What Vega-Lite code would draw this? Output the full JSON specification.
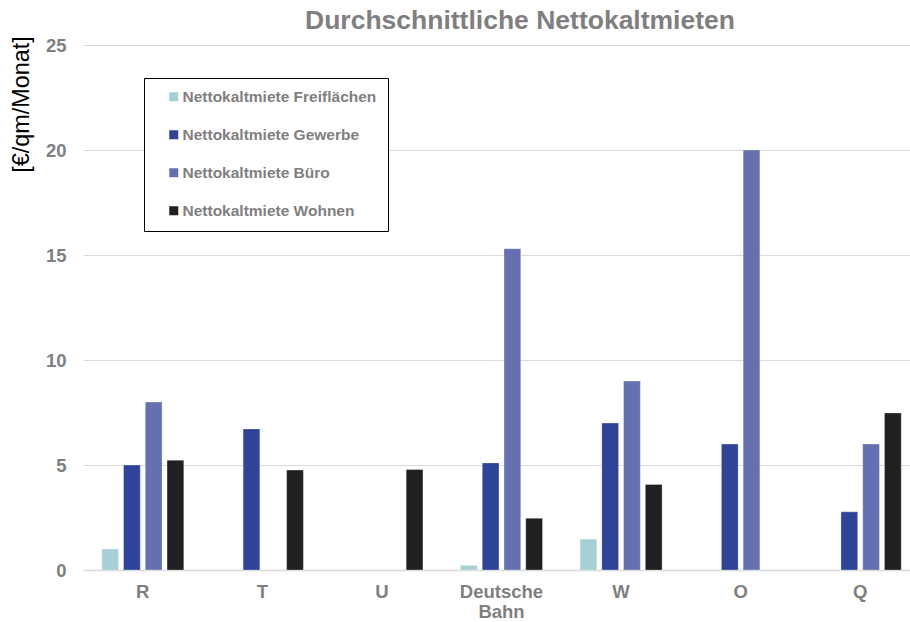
{
  "$schema": "https://vega.github.io/schema/vega-lite/v6.json",
  "autosize": {"type": "none"},
  "width": 837,
  "height": 525,
  "padding": {"left": 83, "top": 45, "right": 0, "bottom": 52},
  "background": "white",
  "title": {
    "text": "Durchschnittliche Nettokaltmieten",
    "font": "Liberation Sans",
    "fontSize": 26.5,
    "fontWeight": "bold",
    "color": "#7f7f7f",
    "anchor": "start",
    "frame": "group",
    "dx": 222,
    "offset": 1
  },
  "data": {
    "values": [
      {"standort": "R", "art": "Nettokaltmiete Freiflächen", "wert": 1.0},
      {"standort": "R", "art": "Nettokaltmiete Gewerbe", "wert": 5.0},
      {"standort": "R", "art": "Nettokaltmiete Büro", "wert": 8.0},
      {"standort": "R", "art": "Nettokaltmiete Wohnen", "wert": 5.23},
      {"standort": "T", "art": "Nettokaltmiete Gewerbe", "wert": 6.72},
      {"standort": "T", "art": "Nettokaltmiete Wohnen", "wert": 4.76},
      {"standort": "U", "art": "Nettokaltmiete Wohnen", "wert": 4.78},
      {"standort": "Deutsche Bahn", "art": "Nettokaltmiete Freiflächen", "wert": 0.22},
      {"standort": "Deutsche Bahn", "art": "Nettokaltmiete Gewerbe", "wert": 5.1},
      {"standort": "Deutsche Bahn", "art": "Nettokaltmiete Büro", "wert": 15.3},
      {"standort": "Deutsche Bahn", "art": "Nettokaltmiete Wohnen", "wert": 2.46},
      {"standort": "W", "art": "Nettokaltmiete Freiflächen", "wert": 1.47},
      {"standort": "W", "art": "Nettokaltmiete Gewerbe", "wert": 7.0},
      {"standort": "W", "art": "Nettokaltmiete Büro", "wert": 9.0},
      {"standort": "W", "art": "Nettokaltmiete Wohnen", "wert": 4.07},
      {"standort": "O", "art": "Nettokaltmiete Gewerbe", "wert": 6.0},
      {"standort": "O", "art": "Nettokaltmiete Büro", "wert": 20.0},
      {"standort": "Q", "art": "Nettokaltmiete Gewerbe", "wert": 2.77},
      {"standort": "Q", "art": "Nettokaltmiete Büro", "wert": 6.0},
      {"standort": "Q", "art": "Nettokaltmiete Wohnen", "wert": 7.48}
    ]
  },
  "mark": {"type": "bar", "stroke": "#ffffff", "strokeWidth": 0.6, "strokeOpacity": 0.5},
  "encoding": {
    "x": {
      "field": "standort",
      "type": "nominal",
      "sort": ["R", "T", "U", "Deutsche Bahn", "W", "O", "Q"],
      "scale": {"paddingInner": 0.314, "paddingOuter": 0.157},
      "axis": {
        "title": null,
        "labelAngle": 0,
        "labelFont": "Liberation Sans",
        "labelFontSize": 18.5,
        "labelFontWeight": "bold",
        "labelColor": "#7f7f7f",
        "labelPadding": 12,
        "labelExpr": "datum.label == 'Deutsche Bahn' ? ['Deutsche', 'Bahn'] : datum.label",
        "labelLineHeight": 20,
        "ticks": false,
        "domainColor": "#d9d9d9",
        "domainWidth": 1.5,
        "grid": false
      }
    },
    "xOffset": {
      "field": "art",
      "type": "nominal",
      "sort": ["Nettokaltmiete Freiflächen", "Nettokaltmiete Gewerbe", "Nettokaltmiete Büro", "Nettokaltmiete Wohnen"],
      "scale": {"paddingInner": 0.23, "paddingOuter": 0}
    },
    "y": {
      "field": "wert",
      "type": "quantitative",
      "scale": {"domain": [0, 25], "nice": false},
      "axis": {
        "values": [0, 5, 10, 15, 20, 25],
        "title": "[€/qm/Monat]",
        "titleFont": "Liberation Sans",
        "titleFontSize": 23.4,
        "titleFontWeight": "normal",
        "titleColor": "#000000",
        "titleAngle": -90,
        "titleAlign": "center",
        "titleBaseline": "middle",
        "titleX": -62,
        "titleY": 59,
        "labelFont": "Liberation Sans",
        "labelFontSize": 18.5,
        "labelFontWeight": "bold",
        "labelColor": "#7f7f7f",
        "labelPadding": 17,
        "ticks": false,
        "domain": false,
        "gridColor": "#d9d9d9",
        "gridWidth": 1.2
      }
    },
    "color": {
      "field": "art",
      "type": "nominal",
      "sort": ["Nettokaltmiete Freiflächen", "Nettokaltmiete Gewerbe", "Nettokaltmiete Büro", "Nettokaltmiete Wohnen"],
      "scale": {
        "domain": ["Nettokaltmiete Freiflächen", "Nettokaltmiete Gewerbe", "Nettokaltmiete Büro", "Nettokaltmiete Wohnen"],
        "range": ["#a6d1d4", "#2e4499", "#6570b1", "#1f2022"]
      },
      "legend": {
        "title": null,
        "orient": "none",
        "legendX": 61,
        "legendY": 33,
        "padding": 11,
        "strokeColor": "#000000",
        "fillColor": "#ffffff",
        "symbolType": "square",
        "symbolSize": 81,
        "symbolStrokeWidth": 0,
        "symbolOffset": 11,
        "labelOffset": 1,
        "labelFont": "Liberation Sans",
        "labelFontSize": 15.5,
        "labelFontWeight": "bold",
        "labelColor": "#7f7f7f",
        "labelLimit": 400,
        "rowPadding": 21
      }
    }
  },
  "config": {"view": {"stroke": null}}
}
